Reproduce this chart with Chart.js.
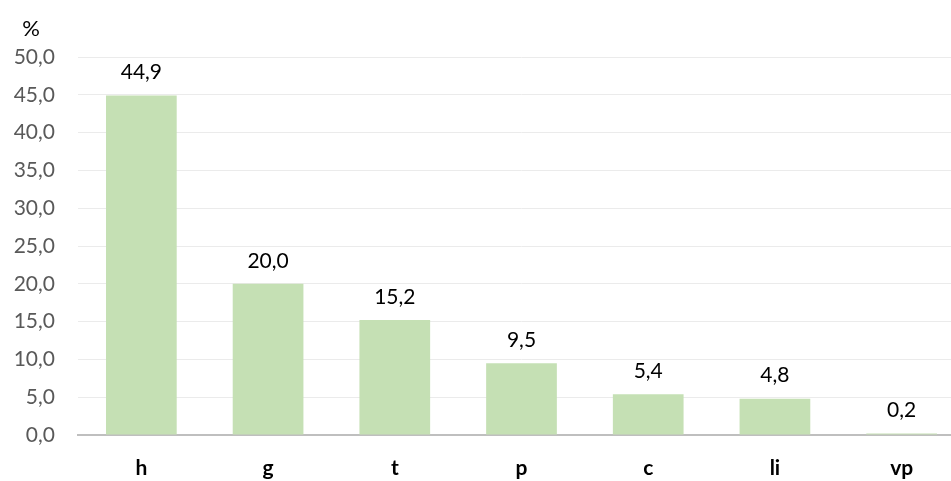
<!DOCTYPE html>
<html><head><meta charset="utf-8">
<script src="https://cdn.jsdelivr.net/npm/chart.js@4"></script>
<style>html,body{margin:0;padding:0;background:#fff;overflow:hidden;width:951px;height:481px}#wrap{width:968px;height:495px}</style>
</head><body><div id="wrap"><canvas id="c"></canvas></div>
<script>
const categories = ["h","g","t","p","c","li","vp"];
const values = [44.9, 20.0, 15.2, 9.5, 5.4, 4.8, 0.2];
const yTicks = [0,5,10,15,20,25,30,35,40,45,50];
const unitLabel = "%";
const FONT = "Lato, 'Open Sans', sans-serif";
const fmt = v => v.toFixed(1).replace('.', ',');

const labelPlugin = {
  id: 'labels',
  afterDatasetsDraw(chart) {
    const ctx = chart.ctx;
    const meta = chart.getDatasetMeta(0);
    ctx.save();
    ctx.font = "21px " + FONT;
    ctx.fillStyle = "#000";
    ctx.textAlign = "center";
    ctx.textBaseline = "middle";
    meta.data.forEach((bar, i) => {
      ctx.fillText(fmt(values[i]), bar.x, bar.y - 23);
    });
    ctx.font = "22px " + FONT;
    ctx.fillText(unitLabel, 31, 29);
    ctx.restore();
  }
};

new Chart(document.getElementById('c'), {
  type: 'bar',
  data: { labels: categories, datasets: [{ data: values, backgroundColor: '#C5E0B4', categoryPercentage: 0.558, barPercentage: 1.0 }] },
  options: {
    responsive: true, maintainAspectRatio: false, animation: false,
    devicePixelRatio: 1,
    layout: { padding: { top: 57, right: 3, left: 0, bottom: 0 } },
    plugins: { legend: { display: false }, tooltip: { enabled: false } },
    scales: {
      x: {
        grid: { display: false, drawTicks: false },
        border: { display: true, color: '#BFBFBF', width: 2 },
        ticks: { font: { family: FONT, size: 21, weight: 'bold' }, color: '#000', padding: 21 },
        afterFit(s) { s.height = 60; }
      },
      y: {
        min: 0, max: 50,
        afterBuildTicks(s) { s.ticks = yTicks.map(v => ({ value: v })); },
        grid: { color: '#EBEBEB', lineWidth: 1, drawTicks: false },
        border: { display: false },
        ticks: { font: { family: FONT, size: 21 }, color: '#595959', padding: 23, callback: v => fmt(v) },
        afterFit(s) { s.width = 78; }
      }
    }
  },
  plugins: [labelPlugin]
});
</script></body></html>
